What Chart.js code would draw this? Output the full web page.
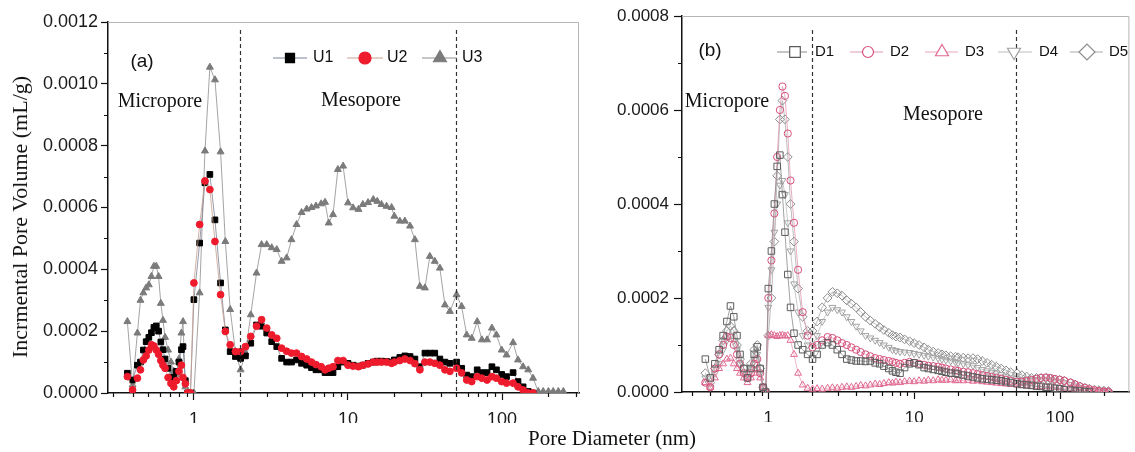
<!DOCTYPE html>
<html lang="en">
<head>
<meta charset="UTF-8">
<title>Pore size distribution</title>
<script src="https://cdn.jsdelivr.net/npm/chart.js@4.4.1/dist/chart.umd.min.js"></script>
<style>
    body { margin: 0; background: #fff; }
    #wrap { position: relative; width: 1135px; height: 452px; overflow: hidden;
            font-family: 'Liberation Serif', 'Times New Roman', serif; color: #111; }
    canvas { position: absolute; top: 0; }
    #chartA { left: 0; }
    #chartB { left: 580px; }
    .lbl { position: absolute; transform: translate(-50%, -50%); white-space: nowrap; line-height: 1; }
    .sans { font-family: 'Liberation Sans', Arial, sans-serif; }
</style>
</head>
<body>
<div id="wrap">
    <canvas id="chartA" width="590" height="430"></canvas>
    <canvas id="chartB" width="555" height="430"></canvas>

    <div class="lbl" style="left:20px; top:217px; font-size:22px; transform:translate(-50%,-50%) rotate(-90deg);">Incrmental Pore Volume (mL/g)</div>
    <div class="lbl" style="left:612px; top:438px; font-size:21px;">Pore Diameter (nm)</div>

    <div class="lbl sans" style="left:142px; top:60px; font-size:19px;">(a)</div>
    <div class="lbl" style="left:160px; top:100px; font-size:20px;">Micropore</div>
    <div class="lbl" style="left:361px; top:99px; font-size:20px;">Mesopore</div>

    <div class="lbl sans" style="left:710px; top:49px; font-size:19px;">(b)</div>
    <div class="lbl" style="left:727px; top:100px; font-size:20px;">Micropore</div>
    <div class="lbl" style="left:943px; top:113px; font-size:20px;">Mesopore</div>
</div>

<script>
    // ***********
    // Data (pore diameter in nm, incremental volume in 1e-4 mL/g)
    // ***********

    // Panel (a) diameters
    var diamA = [0.37, 0.40, 0.43, 0.45, 0.47, 0.49, 0.51, 0.53, 0.55, 0.57,
                 0.59, 0.61, 0.63, 0.65, 0.68, 0.71, 0.74, 0.77, 0.80, 0.83,
                 0.85, 0.88, 0.91, 0.95, 1.00, 1.09, 1.18, 1.27, 1.37, 1.49,
                 1.60, 1.72, 1.86, 2.01, 2.16, 2.34, 2.55, 2.75, 2.97, 3.20,
                 3.45, 3.71, 4.00, 4.30, 4.64, 5.0, 5.4, 5.8, 6.2, 6.7,
                 7.1, 7.5, 8.0, 8.6, 9.3, 10.0, 10.8, 11.7, 12.5, 13.5,
                 14.6, 15.5, 16.5, 17.8, 19.2, 20.0, 21.7, 23.4, 25.3, 27.2,
                 29.3, 31.6, 34.0, 36.6, 39.5, 42.6, 45.9, 50.7, 54.7, 59,
                 63.6, 69, 74, 80, 86, 92, 99.5, 107, 118, 127,
                 137, 148, 159, 172, 185, 200, 215, 232, 250];

    var u1 = [0.64, 0.42, 0.90, 1.00, 1.39, 1.66, 1.80, 1.95, 2.12, 2.17,
              2.00, 1.65, 1.40, 1.10, 0.80, 0.50, 0.50, 0.70, 1.00, 1.40,
              1.50, 0.40, 0.00, 0.00, 3.02, 4.85, 6.80, 7.07, 5.60, 3.56,
              2.04, 1.34, 1.18, 1.12, 1.20, 1.61, 2.20, 2.16, 1.94, 1.66,
              1.50, 1.12, 1.00, 1.00, 1.07, 0.96, 0.90, 0.82, 0.75, 0.75,
              0.66, 0.66, 0.66, 0.85, 1.00, 0.96, 0.90, 0.87, 0.90, 0.96,
              1.00, 1.03, 1.03, 1.02, 1.00, 1.07, 1.15, 1.20, 1.18, 1.10,
              0.85, 1.29, 1.29, 1.29, 1.10, 1.00, 0.96, 1.00, 0.80, 0.58,
              0.53, 0.75, 0.66, 0.66, 0.85, 0.75, 0.60, 0.53, 0.66, 0.37,
              0.20, 0.05, 0.00, null, null, null, null, null, null];

    var u2 = [0.53, 0.10, 0.48, 0.75, 1.07, 1.20, 1.39, 1.56, 1.52, 1.39,
              1.25, 1.05, 0.90, 0.80, 0.50, 0.31, 0.20, 0.40, 0.70, 0.90,
              0.50, 0.30, 0.00, 0.00, 3.56, 5.45, 6.86, 6.58, 4.90, 3.18,
              1.99, 1.56, 1.34, 1.34, 1.50, 1.83, 2.16, 2.37, 2.10, 1.88,
              1.77, 1.45, 1.35, 1.29, 1.29, 1.18, 1.10, 1.00, 0.92, 0.85,
              0.75, 0.80, 0.85, 1.05, 1.05, 0.90, 0.87, 0.85, 0.90, 0.94,
              1.00, 1.00, 1.00, 1.00, 0.96, 1.00, 1.05, 1.10, 1.05, 0.95,
              0.75, 1.00, 1.00, 0.96, 0.90, 0.75, 0.70, 0.80, 0.65, 0.42,
              0.37, 0.53, 0.48, 0.42, 0.53, 0.48, 0.37, 0.32, 0.32, 0.20,
              0.10, 0.00, 0.00, null, null, null, null, null, null];

    var u3 = [2.31, 0.26, 1.94, 3.00, 3.24, 3.40, 3.50, 3.77, 4.10, 4.10,
              3.77, 2.90, 2.35, 1.80, 1.39, 1.00, 0.70, 0.60, 1.10, 1.94,
              2.31, 0.20, 0.00, 0.00, 0.00, 3.24, 7.83, 10.54, 10.13, 7.80,
              4.90, 2.70, 1.34, 0.75, 1.30, 2.53, 3.88, 4.80, 4.80, 4.70,
              4.64, 4.26, 4.37, 4.96, 5.45, 5.84, 5.95, 6.00, 6.05, 6.12,
              6.17, 5.50, 5.77, 7.23, 7.34, 6.15, 5.99, 5.94, 6.10, 6.16,
              6.26, 6.20, 6.10, 6.04, 6.00, 5.72, 5.56, 5.56, 5.40, 4.96,
              3.45, 3.40, 4.42, 4.26, 4.04, 2.85, 2.64, 3.18, 2.80, 1.88,
              1.77, 2.31, 1.72, 1.72, 2.10, 1.88, 1.39, 1.23, 1.63, 1.07,
              0.85, 0.75, 0.48, 0.05, 0.05, 0.05, 0.05, 0.05, 0.05];

    // Panel (b) diameters
    var diamB = [0.37, 0.40, 0.43, 0.46, 0.49, 0.52, 0.55, 0.58, 0.61, 0.64,
                 0.68, 0.72, 0.76, 0.80, 0.84, 0.88, 0.92, 0.96, 1.00, 1.05,
                 1.10, 1.15, 1.20, 1.25, 1.30, 1.36, 1.42, 1.50, 1.60, 1.72,
                 1.86, 2.01, 2.16, 2.34, 2.55, 2.75, 2.97, 3.20, 3.45, 3.71,
                 4.00, 4.30, 4.64, 5.0, 5.4, 5.8, 6.2, 6.7, 7.1, 7.5,
                 8.0, 8.6, 9.3, 10.0, 10.8, 11.7, 12.5, 13.5, 14.6, 15.5,
                 16.5, 17.8, 19.2, 20.0, 21.7, 23.4, 25.3, 27.2, 29.3, 31.6,
                 34.0, 36.6, 39.5, 42.6, 45.9, 50.7, 54.7, 59, 63.6, 69,
                 74, 80, 86, 92, 99.5, 107, 118, 127, 137, 148,
                 159, 172, 185, 200, 215];

    var d1 = [0.70, 0.30, 0.60, 0.90, 1.20, 1.50, 1.83, 1.60, 1.20, 0.80,
              0.50, 0.30, 0.50, 0.80, 0.96, 0.50, 0.10, 0.00, 2.20, 3.00,
              4.00, 4.80, 5.04, 4.20, 3.40, 2.50, 1.80, 1.25, 1.00, 0.90,
              0.80, 0.70, 0.80, 1.00, 1.05, 1.00, 0.90, 0.80, 0.70, 0.68,
              0.66, 0.66, 0.65, 0.66, 0.62, 0.60, 0.55, 0.50, 0.45, 0.42,
              0.40, 0.52, 0.60, 0.62, 0.58, 0.52, 0.50, 0.48, 0.46, 0.44,
              0.42, 0.40, 0.40, 0.38, 0.36, 0.34, 0.32, 0.30, 0.28, 0.27,
              0.26, 0.25, 0.24, 0.22, 0.20, 0.18, 0.16, 0.15, 0.14, 0.12,
              0.12, 0.10, 0.10, 0.08, 0.07, 0.05, 0.04, 0.03, 0.02, 0.01,
              0.00, null, null, null, null];

    var d2 = [0.20, 0.10, 0.50, 0.80, 1.00, 1.18, 1.15, 1.00, 0.80, 0.60,
              0.40, 0.30, 0.40, 0.60, 0.70, 0.40, 0.10, 0.00, 2.00, 2.80,
              3.80, 5.00, 6.00, 6.50, 6.30, 5.50, 4.50, 3.60, 2.60, 1.70,
              1.20, 0.95, 1.00, 1.10, 1.17, 1.15, 1.10, 1.04, 1.00, 0.95,
              0.90, 0.85, 0.80, 0.76, 0.72, 0.70, 0.68, 0.66, 0.64, 0.62,
              0.60, 0.62, 0.64, 0.62, 0.60, 0.58, 0.56, 0.55, 0.54, 0.52,
              0.50, 0.48, 0.46, 0.45, 0.43, 0.42, 0.40, 0.38, 0.36, 0.34,
              0.32, 0.30, 0.28, 0.26, 0.24, 0.22, 0.22, 0.24, 0.26, 0.28,
              0.30, 0.31, 0.30, 0.28, 0.26, 0.24, 0.20, 0.16, 0.12, 0.09,
              0.06, 0.04, 0.02, 0.01, 0.00];

    var d3 = [0.20, 0.10, 0.30, 0.50, 0.60, 0.70, 0.72, 0.60, 0.50, 0.40,
              0.30, 0.20, 0.30, 0.40, 0.50, 0.30, 0.10, 0.00, 1.20, 1.22,
              1.20, 1.18, 1.20, 1.21, 1.19, 1.20, 1.10, 0.80, 0.40, 0.15,
              0.08, 0.06, 0.07, 0.06, 0.08, 0.09, 0.08, 0.10, 0.11, 0.10,
              0.12, 0.14, 0.13, 0.15, 0.17, 0.16, 0.18, 0.20, 0.19, 0.21,
              0.20, 0.22, 0.23, 0.22, 0.24, 0.23, 0.25, 0.24, 0.26, 0.25,
              0.25, 0.26, 0.24, 0.25, 0.24, 0.25, 0.23, 0.24, 0.22, 0.21,
              0.20, 0.19, 0.18, 0.17, 0.16, 0.15, 0.14, 0.13, 0.12, 0.12,
              0.12, 0.11, 0.11, 0.10, 0.09, 0.08, 0.07, 0.06, 0.05, 0.04,
              0.03, 0.02, 0.02, 0.01, 0.01];

    var d4 = [0.30, 0.10, 0.40, 0.60, 0.90, 1.10, 1.20, 1.10, 0.90, 0.60,
              0.40, 0.30, 0.50, 0.70, 0.80, 0.40, 0.10, 0.00, 1.80, 2.60,
              3.40, 4.00, 4.40, 4.50, 4.20, 3.60, 3.00, 2.30, 1.70, 1.20,
              1.00, 1.00, 1.20, 1.50, 1.70, 1.80, 1.75, 1.70, 1.60, 1.50,
              1.40, 1.30, 1.20, 1.15, 1.10, 1.05, 1.00, 0.95, 0.90, 0.88,
              0.86, 0.85, 0.84, 0.82, 0.80, 0.78, 0.76, 0.74, 0.72, 0.70,
              0.68, 0.66, 0.64, 0.62, 0.60, 0.58, 0.56, 0.52, 0.48, 0.45,
              0.42, 0.40, 0.37, 0.34, 0.30, 0.28, 0.26, 0.25, 0.25, 0.26,
              0.27, 0.27, 0.26, 0.24, 0.22, 0.20, 0.16, 0.13, 0.10, 0.07,
              0.05, 0.03, 0.02, 0.01, 0.00];

    var d5 = [0.40, 0.20, 0.50, 0.80, 1.10, 1.30, 1.40, 1.30, 1.00, 0.70,
              0.50, 0.40, 0.60, 0.90, 1.00, 0.50, 0.10, 0.00, 1.20, 2.00,
              3.20, 4.60, 5.80, 6.20, 5.80, 5.00, 4.00, 3.20, 2.20, 1.60,
              1.30, 1.30, 1.50, 1.80, 2.00, 2.13, 2.10, 2.05, 1.95, 1.88,
              1.80, 1.70, 1.60, 1.52, 1.45, 1.38, 1.32, 1.26, 1.21, 1.18,
              1.16, 1.12, 1.08, 1.04, 1.00, 0.95, 0.90, 0.86, 0.83, 0.80,
              0.78, 0.76, 0.75, 0.74, 0.73, 0.72, 0.72, 0.70, 0.66, 0.62,
              0.58, 0.54, 0.50, 0.46, 0.42, 0.40, 0.36, 0.33, 0.30, 0.30,
              0.30, 0.30, 0.28, 0.26, 0.26, 0.24, 0.20, 0.16, 0.12, 0.09,
              0.07, 0.05, 0.04, 0.03, 0.02];

    // Axis ticks
    var xMajor = [1, 10, 100];
    var xMinor = [0.3, 0.4, 0.5, 0.6, 0.7, 0.8, 0.9, 2, 3, 4, 5, 6, 7, 8, 9,
                  20, 30, 40, 50, 60, 70, 80, 90, 200, 300];
    var yMinorA = [0.0001, 0.0003, 0.0005, 0.0007, 0.0009, 0.0011];
    var yMinorB = [0.0001, 0.0003, 0.0005, 0.0007];
    var poreBounds = [2, 50];   // micro / meso / macro limits (nm)


    // ****************
    // HELPER FUNCTIONS
    // ****************

    // Pair diameters with values (1e-4 mL/g -> mL/g), skip missing ones
    function toPoints(xs, ys) {
        var out = [];
        for (var i = 0; i < xs.length; i++) {
            if (ys[i] !== null && ys[i] !== undefined) { out.push({x: xs[i], y: ys[i] * 1e-4}); }
        }
        return out;
    } // END: toPoints

    // One connected series with markers
    function series(label, xs, ys, style) {
        return Object.assign({
            label: label,
            data: toPoints(xs, ys),
            showLine: true,
            borderWidth: 0.8,
            pointBorderWidth: 1,
            pointRotation: 0,
            pointHoverRadius: 0,
            fill: false
        }, style);
    } // END: series

    // Frame, dashed pore limits, minor ticks and in-plot legend
    var decor = {
        id: 'decor',
        afterDatasetsDraw: function(chart, args, o) {
            var ctx = chart.ctx, a = chart.chartArea, x = chart.scales.x, y = chart.scales.y;
            ctx.save();

            // top and right frame
            ctx.strokeStyle = '#b5b5b5';
            ctx.lineWidth = 1;
            ctx.beginPath();
            ctx.moveTo(a.left, a.top + 0.5);
            ctx.lineTo(a.right - 0.5, a.top + 0.5);
            ctx.lineTo(a.right - 0.5, a.bottom);
            ctx.stroke();

            // dashed boundaries
            ctx.setLineDash([4, 3]);
            ctx.strokeStyle = '#333';
            ctx.lineWidth = 1.2;
            poreBounds.forEach(function(v) {
                var px = Math.round(x.getPixelForValue(v)) + 0.5;
                ctx.beginPath();
                ctx.moveTo(px, o.dashTop);
                ctx.lineTo(px, a.bottom);
                ctx.stroke();
            });
            ctx.setLineDash([]);

            // minor ticks
            ctx.strokeStyle = '#111';
            ctx.lineWidth = 1.2;
            ctx.beginPath();
            xMinor.forEach(function(v) {
                if (v < x.min || v > x.max) { return; }
                var px = Math.round(x.getPixelForValue(v)) + 0.5;
                ctx.moveTo(px, a.bottom);
                ctx.lineTo(px, a.bottom + 4);
            });
            o.yMinor.forEach(function(v) {
                var py = Math.round(y.getPixelForValue(v)) + 0.5;
                ctx.moveTo(a.left, py);
                ctx.lineTo(a.left - 4, py);
            });
            ctx.stroke();

            // legend
            var lg = o.legend;
            ctx.font = lg.font;
            ctx.textBaseline = 'middle';
            chart.data.datasets.forEach(function(ds, i) {
                var it = lg.items[i];
                ctx.strokeStyle = ds.borderColor;
                ctx.lineWidth = 1;
                ctx.beginPath();
                ctx.moveTo(it[0], lg.y);
                ctx.lineTo(it[1], lg.y);
                ctx.stroke();

                ctx.fillStyle = lg.fill ? ds.pointBorderColor : '#fff';
                ctx.strokeStyle = ds.pointBorderColor;
                ctx.lineWidth = 1.2;
                Chart.helpers.drawPoint(ctx, {
                    pointStyle: ds.pointStyle,
                    rotation: ds.pointRotation,
                    radius: lg.radius[i],
                    borderWidth: 1.2
                }, it[2], lg.y);

                ctx.fillStyle = '#111';
                ctx.fillText(ds.label, it[3], lg.y);
            });
            ctx.restore();
        }
    }; // END: decor

    // Shared axis options
    function axes(o) {
        return {
            x: {
                type: 'logarithmic',
                min: o.xMin,
                max: o.xMax,
                bounds: 'data',
                afterBuildTicks: function(scale) {
                    scale.ticks = xMajor.map(function(v) { return {value: v, major: true}; });
                },
                afterFit: function(scale) { scale.height = 30; },
                ticks: {
                    autoSkip: false,
                    maxRotation: 0,
                    padding: 9,
                    color: '#1a1a1a',
                    font: {family: "'Liberation Sans', Arial, sans-serif", size: o.font},
                    callback: function(v) { return String(v); }
                },
                grid: {display: true, drawOnChartArea: false, tickLength: 7, tickColor: '#111', tickWidth: 1.2},
                border: {display: true, color: '#111', width: 1.5}
            },
            y: {
                type: 'linear',
                min: 0,
                max: o.yMax,
                afterFit: function(scale) { scale.width = o.yWidth; },
                ticks: {
                    stepSize: 0.0002,
                    padding: o.yPad,
                    color: '#1a1a1a',
                    font: {family: "'Liberation Sans', Arial, sans-serif", size: o.font},
                    callback: function(v) { return Number(v).toFixed(4); }
                },
                grid: {display: true, drawOnChartArea: false, tickLength: o.tickLen, tickColor: '#111', tickWidth: 1.2},
                border: {display: true, color: '#111', width: 1.5}
            }
        };
    } // END: axes

    // Build one panel
    function buildPanel(canvasID, datasets, scaleOpts, padding, decorOpts) {
        return new Chart(document.getElementById(canvasID), {
            type: 'scatter',
            data: {datasets: datasets},
            options: {
                responsive: false,
                animation: false,
                events: [],
                layout: {padding: padding},
                scales: axes(scaleOpts),
                plugins: {legend: {display: false}, tooltip: {enabled: false}, decor: decorOpts}
            },
            plugins: [decor]
        });
    } // END: buildPanel


    // ******************
    // PANEL (a)
    // ******************
    buildPanel('chartA', [
        series('U1', diamA, u1, {borderColor: '#7b8296', pointStyle: 'rect', pointRadius: 4,
            pointBackgroundColor: '#000', pointBorderColor: '#000', order: 1}),
        series('U2', diamA, u2, {borderColor: '#c9a08f', pointStyle: 'circle', pointRadius: 3.4,
            pointBackgroundColor: '#ee1b2d', pointBorderColor: '#ee1b2d', order: 0}),
        series('U3', diamA, u3, {borderColor: '#8d8d8d', pointStyle: 'triangle', pointRadius: 4,
            pointBackgroundColor: '#7b7b7b', pointBorderColor: '#7b7b7b', order: 2})
    ], {xMin: 0.277, xMax: 316, yMax: 0.0012, yWidth: 108, font: 18, tickLen: 7, yPad: 3},
       {left: 0, right: 11, top: 22, bottom: 7},
       {dashTop: 30, yMinor: yMinorA,
        legend: {y: 58, font: "16px 'Liberation Sans', Arial, sans-serif", fill: true, radius: [6.4, 6, 7.5],
                 items: [[273, 307, 290, 313], [347, 383, 365, 387], [422, 457, 440, 462]]}});


    // ******************
    // PANEL (b)
    // ******************
    var openDot = 'rgba(255,255,255,0)';
    buildPanel('chartB', [
        series('D1', diamB, d1, {borderColor: '#8a8a8a', pointStyle: 'rect', pointRadius: 4.6,
            pointBackgroundColor: openDot, pointBorderColor: '#5c5c5c', order: 0}),
        series('D2', diamB, d2, {borderColor: '#e39ab0', pointStyle: 'circle', pointRadius: 3.6,
            pointBackgroundColor: openDot, pointBorderColor: '#d4507a', order: 1}),
        series('D3', diamB, d3, {borderColor: '#eaa6bb', pointStyle: 'triangle', pointRadius: 4,
            pointBackgroundColor: openDot, pointBorderColor: '#e06a90', order: 2}),
        series('D4', diamB, d4, {borderColor: '#bdbdbd', pointStyle: 'triangle', pointRotation: 180, pointRadius: 4,
            pointBackgroundColor: openDot, pointBorderColor: '#a3a3a3', order: 3}),
        series('D5', diamB, d5, {borderColor: '#ababab', pointStyle: 'rectRot', pointRadius: 4.4,
            pointBackgroundColor: openDot, pointBorderColor: '#8c8c8c', order: 4})
    ], {xMin: 0.256, xMax: 299, yMax: 0.0008, yWidth: 102, font: 17, tickLen: 8, yPad: 5},
       {left: 0, right: 2, top: 16, bottom: 8},
       {dashTop: 30, yMinor: yMinorB,
        legend: {y: 52, font: "15px 'Liberation Sans', Arial, sans-serif", fill: false, radius: [7.5, 5.5, 7.5, 7.5, 8],
                 items: [[197, 227, 215, 235], [270, 303, 288, 310], [345, 378, 362, 385],
                         [418, 452, 434, 459], [490, 523, 507, 529]]}});
</script>
</body>
</html>
